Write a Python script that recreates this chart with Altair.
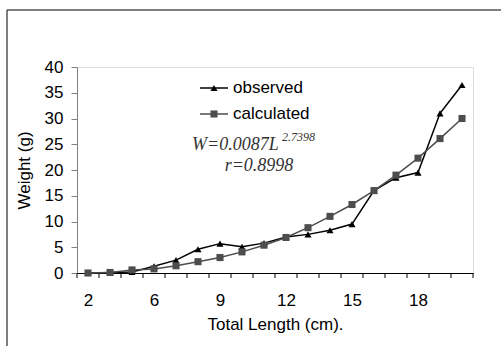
import altair as alt
import pandas as pd

lengths = ["2", "4", "5", "6", "7", "8", "9", "10", "11", "12", "13", "14", "15", "16", "17", "18", "19", "20"]
observed = [0.0, 0.1, 0.2, 1.3, 2.5, 4.6, 5.7, 5.1, 5.8, 7.0, 7.5, 8.3, 9.5, 16.0, 18.5, 19.5, 31.0, 36.5]
calculated = [0.0, 0.1, 0.6, 0.8, 1.4, 2.2, 3.0, 4.1, 5.4, 6.9, 8.8, 11.0, 13.3, 16.0, 19.0, 22.3, 26.1, 30.0]
label_idx = [0, 3, 6, 9, 12, 15]
series_names = ["observed", "calculated"]

rows = []
for i, L in enumerate(lengths):
    rows.append({"idx": i, "len": L, "series": "observed", "w": observed[i]})
    rows.append({"idx": i, "len": L, "series": "calculated", "w": calculated[i]})
df = pd.DataFrame(rows)

W, H = 396, 206
FONT = "Liberation Sans"
FS = 17
label_arr = "[" + ",".join("'%s'" % s for s in lengths) + "]"

xscale = alt.Scale(domain=[-0.5, len(lengths) - 0.5], nice=False, zero=False)
yscale = alt.Scale(domain=[0, 40], nice=False)

colors = alt.Scale(domain=series_names, range=["#000000", "#4d4d4d"])
shapes = alt.Scale(domain=series_names, range=["triangle-up", "square"])

xaxis = alt.Axis(values=label_idx, labelExpr=label_arr + "[datum.value]",
                 ticks=False, grid=False, domainColor="#000000", domainWidth=1,
                 labelFont=FONT, labelFontSize=FS, labelColor="#000000",
                 labelPadding=19, labelOverlap=False,
                 title="Total Length (cm).", titleFont=FONT,
                 titleFontSize=FS, titleFontWeight="normal", titleColor="#000000",
                 titlePadding=8)
yaxis = alt.Axis(values=list(range(0, 41, 5)), grid=False, tickSize=6,
                 tickColor="#808080", domainColor="#808080",
                 labelFont=FONT, labelFontSize=FS, labelColor="#000000",
                 labelPadding=8, labelOverlap=False, labelFlush=False,
                 title="Weight (g)", titleFont=FONT,
                 titleFontSize=FS, titleFontWeight="normal", titleColor="#000000",
                 titlePadding=11)

base = alt.Chart(df)

lines = base.mark_line(strokeWidth=1.5).encode(
    x=alt.X("idx:Q", scale=xscale, axis=xaxis),
    y=alt.Y("w:Q", scale=yscale, axis=yaxis),
    color=alt.Color("series:N", scale=colors, legend=None),
    detail="series:N",
)

points = base.mark_point(filled=True, opacity=1, size=50).encode(
    x=alt.X("idx:Q", scale=xscale, axis=xaxis),
    y=alt.Y("w:Q", scale=yscale, axis=yaxis),
    color=alt.Color("series:N", scale=colors, legend=None),
    shape=alt.Shape("series:N", scale=shapes, legend=None),
)

tick_df = pd.DataFrame({"t": [i - 0.5 for i in range(len(lengths) + 1)]})
xticks = alt.Chart(tick_df).mark_rule(color="#000000", strokeWidth=1).encode(
    x=alt.X("t:Q", scale=xscale, axis=xaxis), y=alt.value(H), y2=alt.value(H + 5)
)

# legend (manual)
legend_layers = []
for name, ly in zip(series_names, [21, 47]):
    d = pd.DataFrame({"series": [name]})
    legend_layers.append(alt.Chart(d).mark_rule(strokeWidth=1.5).encode(
        x=alt.value(123), x2=alt.value(151), y=alt.value(ly),
        color=alt.Color("series:N", scale=colors, legend=None)))
    legend_layers.append(alt.Chart(d).mark_point(filled=True, opacity=1, size=50).encode(
        x=alt.value(137), y=alt.value(ly),
        color=alt.Color("series:N", scale=colors, legend=None),
        shape=alt.Shape("series:N", scale=shapes, legend=None)))
    legend_layers.append(alt.Chart(d).mark_text(align="left", baseline="middle", font=FONT,
                                                fontSize=FS, color="#000000").encode(
        x=alt.value(156), y=alt.value(ly), text="series:N"))

SERIF = "Liberation Serif"
eq = alt.Chart(pd.DataFrame({"t": ["W=0.0087L"]})).mark_text(
    align="left", baseline="middle", font=SERIF, fontSize=18, fontStyle="italic",
    color="#333333").encode(x=alt.value(115), y=alt.value(78), text="t:N")
eq_sup = alt.Chart(pd.DataFrame({"t": ["2.7398"]})).mark_text(
    align="left", baseline="middle", font=SERIF, fontSize=12, fontStyle="italic",
    color="#333333").encode(x=alt.value(205), y=alt.value(70), text="t:N")
eq_r = alt.Chart(pd.DataFrame({"t": ["r=0.8998"]})).mark_text(
    align="center", baseline="middle", font=SERIF, fontSize=18, fontStyle="italic",
    color="#333333").encode(x=alt.value(182), y=alt.value(99), text="t:N")

# chart border (left and top edges)
border_l = alt.Chart(pd.DataFrame({"a": [0]})).mark_rule(color="#000000", strokeWidth=1).encode(
    x=alt.value(-70), y=alt.value(-57), y2=alt.value(290))
border_t = alt.Chart(pd.DataFrame({"a": [0]})).mark_rule(color="#000000", strokeWidth=1).encode(
    x=alt.value(-70), x2=alt.value(440), y=alt.value(-57))

chart = alt.layer(lines, points, xticks, *legend_layers, eq, eq_sup, eq_r,
                  border_l, border_t).properties(
    width=W, height=H,
    autosize=alt.AutoSizeParams(type="none"),
    padding={"left": 77, "top": 67, "right": 28, "bottom": 73},
).configure_view(stroke=None).configure(background="#ffffff")

chart.save("out.html", embed_options={"renderer": "svg", "actions": False})
